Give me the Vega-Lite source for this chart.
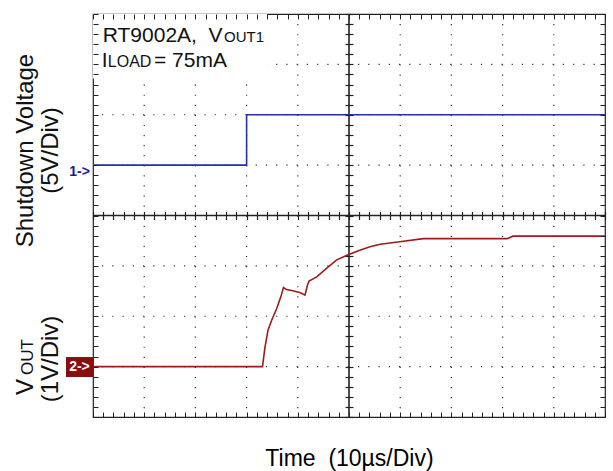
{
  "$schema": "https://vega.github.io/schema/vega-lite/v6.json",
  "width": 512,
  "height": 403,
  "autosize": {"type": "none"},
  "padding": {"left": 93, "top": 14, "right": 8, "bottom": 54},
  "background": "white",
  "config": {
    "view": {"stroke": "#222", "strokeWidth": 1.2},
    "font": "Liberation Sans"
  },
  "datasets": {
    "one": [{}],
    "gridx": [{"g": 1}, {"g": 2}, {"g": 3}, {"g": 4}, {"g": 6}, {"g": 7}, {"g": 8}, {"g": 9}],
    "gridy": [{"h": 1}, {"h": 2}, {"h": 3}, {"h": 5}, {"h": 6}, {"h": 7}],
    "shutdown": [
      {"t": 0, "v": 5},
      {"t": 3, "v": 6},
      {"t": 10, "v": 6}
    ],
    "vout": [
      {"t": 0, "v": 1.0},
      {"t": 3.31, "v": 1.0},
      {"t": 3.36, "v": 1.39},
      {"t": 3.42, "v": 1.73},
      {"t": 3.49, "v": 1.92},
      {"t": 3.59, "v": 2.16},
      {"t": 3.67, "v": 2.39},
      {"t": 3.72, "v": 2.57},
      {"t": 3.78, "v": 2.53},
      {"t": 3.88, "v": 2.51},
      {"t": 4.04, "v": 2.47},
      {"t": 4.14, "v": 2.42},
      {"t": 4.19, "v": 2.62},
      {"t": 4.22, "v": 2.70},
      {"t": 4.37, "v": 2.78},
      {"t": 4.56, "v": 2.95},
      {"t": 4.76, "v": 3.12},
      {"t": 4.96, "v": 3.21},
      {"t": 5.21, "v": 3.31},
      {"t": 5.41, "v": 3.38},
      {"t": 5.61, "v": 3.43},
      {"t": 5.99, "v": 3.48},
      {"t": 6.45, "v": 3.54},
      {"t": 8.09, "v": 3.54},
      {"t": 8.2, "v": 3.59},
      {"t": 10, "v": 3.59}
    ]
  },
  "resolve": {"axis": {"x": "independent", "y": "independent"}},
  "layer": [
    {
      "data": {"name": "gridx"},
      "mark": {"type": "rule", "color": "#333", "strokeWidth": 1.2, "strokeDash": [1.2, 8.88]},
      "encoding": {
        "x": {
          "field": "g", "type": "quantitative",
          "scale": {"domain": [0, 10], "nice": false, "zero": false},
          "axis": {
            "orient": "bottom",
            "values": [0,0.2,0.4,0.6,0.8,1,1.2,1.4,1.6,1.8,2,2.2,2.4,2.6,2.8,3,3.2,3.4,3.6,3.8,4,4.2,4.4,4.6,4.8,5,5.2,5.4,5.6,5.8,6,6.2,6.4,6.6,6.8,7,7.2,7.4,7.6,7.8,8,8.2,8.4,8.6,8.8,9,9.2,9.4,9.6,9.8,10],
            "tickSize": 5, "offset": -5, "domain": false, "labels": false, "grid": false,
            "tickColor": "#222", "tickWidth": 1,
            "title": "Time\u00a0 (10µs/Div)",
            "titleFontSize": 23, "titleFontWeight": "normal", "titleColor": "#000",
            "titleFont": "Liberation Sans", "titlePadding": 30, "zindex": 1
          }
        }
      }
    },
    {
      "data": {"name": "gridy"},
      "mark": {"type": "rule", "color": "#333", "strokeWidth": 1.2, "strokeDash": [1.2, 9.04]},
      "encoding": {
        "y": {
          "field": "h", "type": "quantitative",
          "scale": {"domain": [0, 8], "nice": false, "zero": false},
          "axis": {
            "orient": "left",
            "values": [0,0.2,0.4,0.6,0.8,1,1.2,1.4,1.6,1.8,2,2.2,2.4,2.6,2.8,3,3.2,3.4,3.6,3.8,4,4.2,4.4,4.6,4.8,5,5.2,5.4,5.6,5.8,6,6.2,6.4,6.6,6.8,7,7.2,7.4,7.6,7.8,8],
            "tickSize": 5, "offset": -5, "domain": false, "labels": false, "grid": false,
            "tickColor": "#222", "tickWidth": 1, "title": null, "zindex": 1
          }
        }
      }
    },
    {
      "data": {"name": "one"},
      "mark": {"type": "rect", "color": "white"},
      "encoding": {
        "x": {"datum": 0, "type": "quantitative", "axis": null},
        "x2": {"datum": 3.4},
        "y": {"datum": 6.72, "type": "quantitative", "axis": null},
        "y2": {"datum": 8}
      }
    },
    {
      "data": {"name": "one"},
      "mark": {"type": "rule", "color": "#222", "strokeWidth": 1.6},
      "encoding": {"x": {"datum": 5, "type": "quantitative", "axis": null}}
    },
    {
      "data": {"name": "one"},
      "mark": {"type": "rule", "color": "#222", "strokeWidth": 1.6},
      "encoding": {"y": {"datum": 4, "type": "quantitative", "axis": null}}
    },
    {
      "data": {"name": "shutdown"},
      "mark": {"type": "line", "color": "#2233aa", "strokeWidth": 1.6, "interpolate": "step-after"},
      "encoding": {
        "x": {
          "field": "t", "type": "quantitative",
          "scale": {"domain": [0, 10], "nice": false, "zero": false},
          "axis": {
            "orient": "top",
            "values": [0,0.2,0.4,0.6,0.8,1,1.2,1.4,1.6,1.8,2,2.2,2.4,2.6,2.8,3,3.2,3.4,3.6,3.8,4,4.2,4.4,4.6,4.8,5,5.2,5.4,5.6,5.8,6,6.2,6.4,6.6,6.8,7,7.2,7.4,7.6,7.8,8,8.2,8.4,8.6,8.8,9,9.2,9.4,9.6,9.8,10],
            "tickSize": 5, "offset": -5, "domain": false, "labels": false, "grid": false,
            "tickColor": "#222", "tickWidth": 1, "title": null, "zindex": 1
          }
        },
        "y": {
          "field": "v", "type": "quantitative",
          "scale": {"domain": [0, 8], "nice": false, "zero": false},
          "axis": {
            "orient": "right",
            "values": [0,0.2,0.4,0.6,0.8,1,1.2,1.4,1.6,1.8,2,2.2,2.4,2.6,2.8,3,3.2,3.4,3.6,3.8,4,4.2,4.4,4.6,4.8,5,5.2,5.4,5.6,5.8,6,6.2,6.4,6.6,6.8,7,7.2,7.4,7.6,7.8,8],
            "tickSize": 5, "offset": -5, "domain": false, "labels": false, "grid": false,
            "tickColor": "#222", "tickWidth": 1, "title": null, "zindex": 1
          }
        }
      }
    },
    {
      "data": {"name": "vout"},
      "mark": {"type": "line", "color": "#9b1c1c", "strokeWidth": 1.6},
      "encoding": {
        "x": {
          "field": "t", "type": "quantitative",
          "scale": {"domain": [0, 10], "nice": false, "zero": false},
          "axis": {
            "orient": "bottom",
            "values": [0,0.2,0.4,0.6,0.8,1,1.2,1.4,1.6,1.8,2,2.2,2.4,2.6,2.8,3,3.2,3.4,3.6,3.8,4,4.2,4.4,4.6,4.8,5,5.2,5.4,5.6,5.8,6,6.2,6.4,6.6,6.8,7,7.2,7.4,7.6,7.8,8,8.2,8.4,8.6,8.8,9,9.2,9.4,9.6,9.8,10],
            "tickSize": 8, "offset": -205.5, "domain": false, "labels": false, "grid": false,
            "tickColor": "#222", "tickWidth": 1.2, "title": null, "zindex": 1
          }
        },
        "y": {
          "field": "v", "type": "quantitative",
          "scale": {"domain": [0, 8], "nice": false, "zero": false},
          "axis": {
            "orient": "left",
            "values": [0,0.2,0.4,0.6,0.8,1,1.2,1.4,1.6,1.8,2,2.2,2.4,2.6,2.8,3,3.2,3.4,3.6,3.8,4,4.2,4.4,4.6,4.8,5,5.2,5.4,5.6,5.8,6,6.2,6.4,6.6,6.8,7,7.2,7.4,7.6,7.8,8],
            "tickSize": 8, "offset": -260, "domain": false, "labels": false, "grid": false,
            "tickColor": "#222", "tickWidth": 1.2, "title": null, "zindex": 1
          }
        }
      }
    },
    {
      "data": {"name": "one"},
      "mark": {"type": "text", "text": "RT9002A,\u00a0 V", "fontSize": 21, "align": "left", "baseline": "alphabetic", "color": "#111"},
      "encoding": {
        "x": {"datum": 0.19, "type": "quantitative", "axis": null},
        "y": {"datum": 7.44, "type": "quantitative", "axis": null}
      }
    },
    {
      "data": {"name": "one"},
      "mark": {"type": "text", "text": "OUT1", "fontSize": 15, "align": "left", "baseline": "alphabetic", "color": "#111"},
      "encoding": {
        "x": {"datum": 2.56, "type": "quantitative", "axis": null},
        "y": {"datum": 7.44, "type": "quantitative", "axis": null}
      }
    },
    {
      "data": {"name": "one"},
      "mark": {"type": "text", "text": "I", "fontSize": 21, "align": "left", "baseline": "alphabetic", "color": "#111"},
      "encoding": {
        "x": {"datum": 0.17, "type": "quantitative", "axis": null},
        "y": {"datum": 6.944, "type": "quantitative", "axis": null}
      }
    },
    {
      "data": {"name": "one"},
      "mark": {"type": "text", "text": "LOAD", "fontSize": 16, "align": "left", "baseline": "alphabetic", "color": "#111"},
      "encoding": {
        "x": {"datum": 0.29, "type": "quantitative", "axis": null},
        "y": {"datum": 6.944, "type": "quantitative", "axis": null}
      }
    },
    {
      "data": {"name": "one"},
      "mark": {"type": "text", "text": "= 75mA", "fontSize": 21, "align": "left", "baseline": "alphabetic", "color": "#111"},
      "encoding": {
        "x": {"datum": 1.19, "type": "quantitative", "axis": null},
        "y": {"datum": 6.944, "type": "quantitative", "axis": null}
      }
    },
    {
      "data": {"name": "one"},
      "mark": {"type": "text", "text": ["Shutdown Voltage", "(5V/Div)"], "fontSize": 24, "lineHeight": 25, "angle": 270, "align": "center", "baseline": "alphabetic", "color": "#111"},
      "encoding": {
        "x": {"datum": -1.172, "type": "quantitative", "axis": null},
        "y": {"datum": 5.29, "type": "quantitative", "axis": null}
      }
    },
    {
      "data": {"name": "one"},
      "mark": {"type": "text", "text": "V", "fontSize": 24, "angle": 270, "align": "left", "baseline": "alphabetic", "color": "#111"},
      "encoding": {
        "x": {"datum": -1.172, "type": "quantitative", "axis": null},
        "y": {"datum": 0.4365, "type": "quantitative", "axis": null}
      }
    },
    {
      "data": {"name": "one"},
      "mark": {"type": "text", "text": "OUT", "fontSize": 17, "angle": 270, "align": "left", "baseline": "alphabetic", "color": "#111"},
      "encoding": {
        "x": {"datum": -1.172, "type": "quantitative", "axis": null},
        "y": {"datum": 0.833, "type": "quantitative", "axis": null}
      }
    },
    {
      "data": {"name": "one"},
      "mark": {"type": "text", "text": "(1V/Div)", "fontSize": 24, "angle": 270, "align": "center", "baseline": "alphabetic", "color": "#111"},
      "encoding": {
        "x": {"datum": -0.684, "type": "quantitative", "axis": null},
        "y": {"datum": 1.151, "type": "quantitative", "axis": null}
      }
    },
    {
      "data": {"name": "one"},
      "mark": {"type": "text", "text": "1->", "fontSize": 14, "fontWeight": "bold", "align": "right", "baseline": "middle", "color": "#1a1a9a"},
      "encoding": {
        "x": {"datum": -0.06, "type": "quantitative", "axis": null},
        "y": {"datum": 4.867, "type": "quantitative", "axis": null}
      }
    },
    {
      "data": {"name": "one"},
      "mark": {"type": "rect", "color": "#8a0c0c"},
      "encoding": {
        "x": {"datum": -0.527, "type": "quantitative", "axis": null},
        "x2": {"datum": 0},
        "y": {"datum": 0.794, "type": "quantitative", "axis": null},
        "y2": {"datum": 1.19}
      }
    },
    {
      "data": {"name": "one"},
      "mark": {"type": "text", "text": "2->", "fontSize": 14, "fontWeight": "bold", "align": "center", "baseline": "middle", "color": "white"},
      "encoding": {
        "x": {"datum": -0.264, "type": "quantitative", "axis": null},
        "y": {"datum": 0.992, "type": "quantitative", "axis": null}
      }
    }
  ]
}
